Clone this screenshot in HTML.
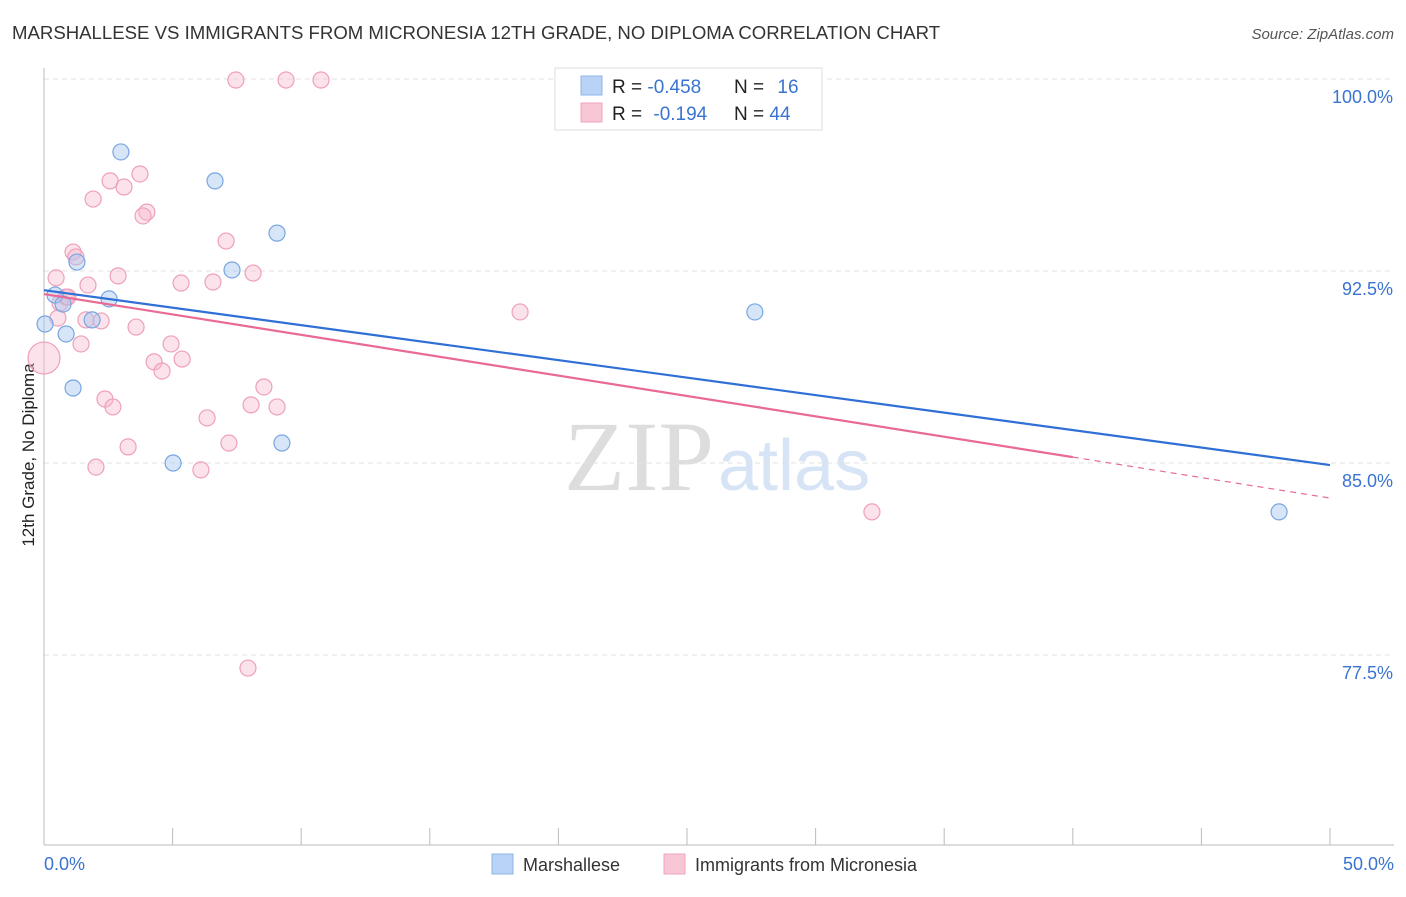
<!DOCTYPE html>
<html><head><meta charset="utf-8"><style>
body{margin:0;background:#fff;font-family:"Liberation Sans",sans-serif}
svg text{font-family:"Liberation Sans",sans-serif}
svg text.serif{font-family:"Liberation Serif",serif}
</style></head><body>
<svg id="c" width="1406" height="892" xmlns="http://www.w3.org/2000/svg">
<text x="12" y="39" font-size="18.6" fill="#333">MARSHALLESE VS IMMIGRANTS FROM MICRONESIA 12TH GRADE, NO DIPLOMA CORRELATION CHART</text>
<text x="1394" y="39" font-size="15" fill="#555" font-style="italic" text-anchor="end">Source: ZipAtlas.com</text>
<text class="serif" x="714" y="490" font-size="100" fill="#ddd" text-anchor="end">ZIP</text>
<text x="718" y="490" font-size="72" fill="#d6e4f5">atlas</text>
<g id="grid"></g>
<line x1="44" y1="68" x2="44" y2="845" stroke="#bbb"/>
<line x1="44" y1="845" x2="1394" y2="845" stroke="#bbb"/>
<text x="34" y="455" font-size="17" fill="#222" text-anchor="middle" transform="rotate(-90 34 455)">12th Grade, No Diploma</text>
<text x="44" y="870" font-size="18" fill="#3a73d0">0.0%</text>
<text x="1394" y="870" font-size="18" fill="#3a73d0" text-anchor="end">50.0%</text>
<g id="marks"></g>
<g>
<rect x="555" y="68" width="267" height="62" fill="#fff" stroke="#ddd"/>
<rect x="581" y="76" width="21" height="19" fill="#b8d3f5" stroke="#8fb5e8"/>
<rect x="581" y="103" width="21" height="19" fill="#f9c6d6" stroke="#f0a4bd"/>
<text x="612" y="93" font-size="19" fill="#222">R = <tspan fill="#3a73d0">-0.458</tspan></text>
<text x="734" y="93" font-size="19" fill="#222">N = <tspan fill="#3a73d0" dx="8">16</tspan></text>
<text x="612" y="120" font-size="19" fill="#222">R = <tspan fill="#3a73d0" dx="6">-0.194</tspan></text>
<text x="734" y="120" font-size="19" fill="#222">N = <tspan fill="#3a73d0">44</tspan></text>
</g>
<g>
<rect x="492" y="854" width="21" height="20" fill="#b8d3f5" stroke="#8fb5e8"/>
<text x="523" y="871" font-size="18" fill="#333">Marshallese</text>
<rect x="664" y="854" width="21" height="20" fill="#f9c6d6" stroke="#f0a4bd"/>
<text x="695" y="871" font-size="18" fill="#333">Immigrants from Micronesia</text>
</g>
</svg>
<script>
const yTicks=[100,92.5,85,77.5];
const yTickLabels=["100.0%","92.5%","85.0%","77.5%"];
const xTicks=[0,5,10,15,20,25,30,35,40,45,50];
const blueX=[2.99,6.65,9.06,7.31,1.28,0.43,2.53,0.04,1.87,0.86,1.13,5.02,9.25,27.64,48.02,0.74];
const blueY=[97.15,96.02,93.98,92.54,92.85,91.56,91.41,90.43,90.59,90.04,87.93,85.0,85.78,90.9,83.09,91.21];
const pinkX=[7.46,9.41,10.77,3.73,2.57,3.11,1.91,4.0,3.85,7.08,1.13,1.24,0.47,2.88,5.33,6.57,8.13,1.71,0.86,0.62,1.63,2.22,3.58,1.44,4.94,4.28,5.37,4.59,0,8.55,2.37,2.68,8.05,9.06,6.34,3.27,7.19,2.02,6.1,18.51,32.19,7.93,0.54,0.93];
const pinkY=[99.96,99.96,99.96,96.29,96.02,95.78,95.31,94.8,94.65,93.67,93.24,93.05,92.23,92.31,92.03,92.07,92.42,91.95,91.48,91.25,90.59,90.55,90.31,89.65,89.65,88.95,89.06,88.59,89.1,87.97,87.5,87.19,87.27,87.19,86.76,85.63,85.78,84.84,84.73,90.9,83.09,76.99,90.66,91.48];
const blueTrend=[91.75,84.92];
const pinkTrend=[91.6,85.23,83.63];
const NS="http://www.w3.org/2000/svg";
const sx=v=>44+v*25.72, sy=v=>79+(100-v)*25.6;
function mk(t,a,p){const e=document.createElementNS(NS,t);for(const k in a)e.setAttribute(k,a[k]);p.appendChild(e);return e;}
const grid=document.getElementById('grid'),marks=document.getElementById('marks');
yTicks.forEach((v,i)=>{
 const l=mk('line',{x1:44,x2:1394,y1:sy(v),y2:sy(v),stroke:'#e2e2e2','stroke-dasharray':'5,4'},grid);
 
 
 const t=mk('text',{x:1393,y:sy(v)+24,'font-size':18,fill:'#3a73d0','text-anchor':'end'},grid);
 t.textContent=yTickLabels[i];
 
 
});
xTicks.forEach(v=>{
 const l=mk('line',{x1:sx(v),x2:sx(v),y1:828,y2:845,stroke:'#bbb'},grid);
 
 
});
pinkX.forEach((x,i)=>{
 const r=(x===0&&pinkY[i]===89.1)?16:8;
 const c=mk('circle',{cx:sx(x),cy:sy(pinkY[i]),r:r,fill:'rgba(248,182,202,0.4)',stroke:'#eea0ba','stroke-width':1.2},marks);
 
 
});
blueX.forEach((x,i)=>{
 const c=mk('circle',{cx:sx(x),cy:sy(blueY[i]),r:8,fill:'rgba(165,198,240,0.45)',stroke:'#78a6e2','stroke-width':1.2},marks);
 
 
});
let l=mk('line',{x1:sx(0),y1:sy(blueTrend[0]),x2:sx(50),y2:sy(blueTrend[1]),stroke:'#2f6fd6','stroke-width':2.2},marks);


l=mk('line',{x1:sx(0),y1:sy(pinkTrend[0]),x2:sx(40),y2:sy(pinkTrend[1]),stroke:'#e86a95','stroke-width':2.2},marks);


l=mk('line',{x1:sx(40),y1:sy(pinkTrend[1]),x2:sx(50),y2:sy(pinkTrend[2]),stroke:'#e86a95','stroke-width':1.2,'stroke-dasharray':'6,5'},marks);


</script>
</body></html>
